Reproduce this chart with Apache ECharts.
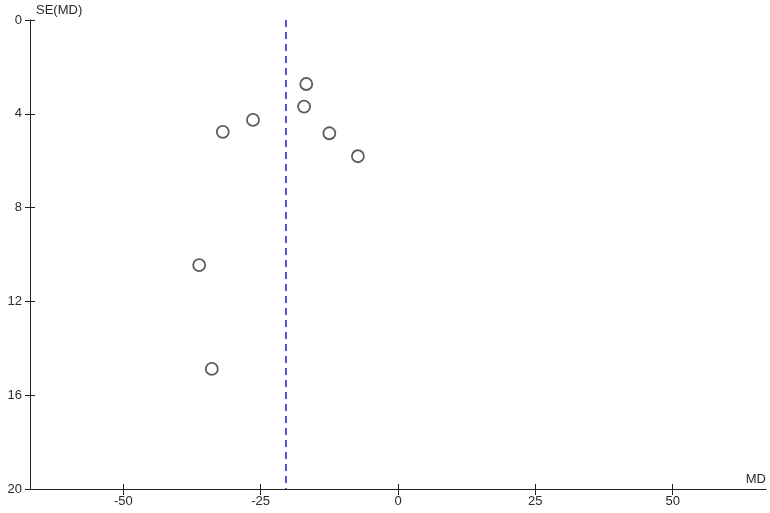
<!DOCTYPE html>
<html><head><meta charset="utf-8">
<script src="https://cdn.jsdelivr.net/npm/echarts@6/dist/echarts.min.js"></script>
<style>html,body{margin:0;padding:0;background:#fff}#c{width:770px;height:513px}</style>
</head><body><div id="c"></div>
<script>
const mdValues = [-16.7, -17.1, -26.4, -31.9, -12.5, -7.3, -36.2, -33.9];
const seValues = [2.73, 3.69, 4.26, 4.77, 4.83, 5.81, 10.45, 14.88];
const pooledMD = -20.4;
const xTicks = [-50, -25, 0, 25, 50];
const yTicks = [0, 4, 8, 12, 16, 20];

const points = mdValues.map((v, i) => [v, seValues[i]]);
const font = {fontFamily: 'Liberation Sans, Arial', fontSize: 13, color: '#2a2a2a'};
const axisLine = {onZero: false, lineStyle: {color: '#222', width: 1}};
const chart = echarts.init(document.getElementById('c'));
const xBase = {type: 'value', min: -67, max: 67, interval: 25, splitLine: {show: false}, axisLine: axisLine};
const yBase = {type: 'value', min: 0, max: 20, interval: 4, inverse: true, splitLine: {show: false}, axisLine: axisLine};
chart.setOption({
  animation: false,
  grid: {left: 30, right: 4, top: 20, bottom: 24, containLabel: false},
  xAxis: [
    Object.assign({}, xBase, {
      position: 'bottom',
      name: 'MD', nameLocation: 'end', nameGap: 0,
      nameTextStyle: Object.assign({}, font, {align: 'right', verticalAlign: 'bottom', padding: [0, 0, 3, 0]}),
      axisTick: {show: true, inside: false, length: 6, lineStyle: {color: '#222'}, customValues: xTicks},
      axisLabel: Object.assign({}, font, {margin: 6, customValues: xTicks})
    }),
    Object.assign({}, xBase, {
      position: 'bottom', gridIndex: 0,
      axisTick: {show: true, inside: true, length: 5, lineStyle: {color: '#222'}, customValues: xTicks},
      axisLabel: {show: false}
    })
  ],
  yAxis: [
    Object.assign({}, yBase, {
      position: 'left',
      name: 'SE(MD)', nameLocation: 'start', nameGap: 0,
      nameTextStyle: Object.assign({}, font, {align: 'left', verticalAlign: 'bottom', padding: [0, 0, 3, 6]}),
      axisTick: {show: true, inside: false, length: 5, lineStyle: {color: '#222'}, customValues: yTicks},
      axisLabel: Object.assign({}, font, {margin: 8, customValues: yTicks})
    }),
    Object.assign({}, yBase, {
      position: 'left',
      axisTick: {show: true, inside: true, length: 5, lineStyle: {color: '#222'}, customValues: yTicks},
      axisLabel: {show: false}
    })
  ],
  series: [
    {
      type: 'line', xAxisIndex: 0, yAxisIndex: 0,
      data: [[pooledMD, 0], [pooledMD, 20]],
      symbol: 'none', silent: true,
      lineStyle: {color: '#1f1fc8', width: 1.5, type: [7, 5]}
    },
    {
      type: 'scatter', xAxisIndex: 0, yAxisIndex: 0,
      data: points, symbol: 'circle', symbolSize: 12,
      itemStyle: {color: '#fff', borderColor: '#333', borderWidth: 1.8}
    }
  ]
});
</script></body></html>
